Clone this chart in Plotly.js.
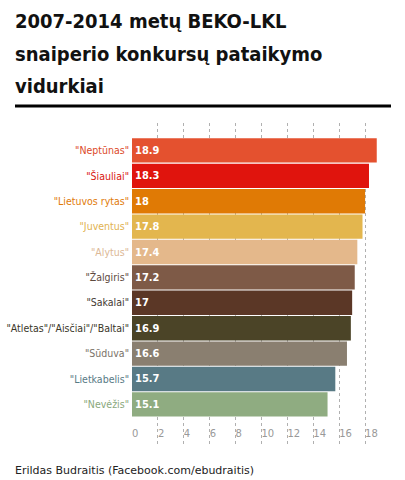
<!DOCTYPE html>
<html>
<head>
<meta charset="utf-8">
<script src="https://cdn.plot.ly/plotly-3.0.1.min.js"></script>
<style>html,body{margin:0;padding:0;background:#fff;}#chart{width:405px;height:480px;}</style>
</head>
<body>
<div id="chart"></div>
<script>
const teams = ['"Neptūnas"', '"Šiauliai"', '"Lietuvos rytas"', '"Juventus"', '"Alytus"', '"Žalgiris"', '"Sakalai"', '"Atletas"/"Aisčiai"/"Baltai"', '"Sūduva"', '"Lietkabelis"', '"Nevėžis"'];
const averages = [18.9, 18.3, 18, 17.8, 17.4, 17.2, 17, 16.9, 16.6, 15.7, 15.1];
const barColors = ['#e4512f', '#e0140d', '#e07a05', '#e3b64e', '#e4b88b', '#7e5a47', '#5b3726', '#4b4427', '#8a7f70', '#587a85', '#8fac81'];
const labelColors = ['#dc4a2a', '#d9150e', '#df7b0a', '#dfb24f', '#dcb896', '#5e4a3e', '#453a33', '#3a3628', '#7a7268', '#587a85', '#8aa87c'];
const xTicks = [0, 2, 4, 6, 8, 10, 12, 14, 16, 18];
const titleLines = ['2007-2014 metų BEKO-LKL', 'snaiperio konkursų pataikymo', 'vidurkiai'];
const sourceText = 'Erildas Budraitis (Facebook.com/ebudraitis)';

const condensed = '"DejaVu Sans Condensed", "DejaVu Sans", sans-serif';

const ticktext = teams.map((t, i) => '<span style="color:' + labelColors[i] + '">' + t + '</span>');

const trace = {
  type: 'bar',
  orientation: 'h',
  x: averages,
  y: teams,
  marker: {color: barColors, line: {width: 0}},
  text: averages.map(v => String(v)),
  textposition: 'inside',
  insidetextanchor: 'start',
  constraintext: 'none',
  textfont: {family: condensed, size: 11, color: '#ffffff', weight: 'bold'},
  hoverinfo: 'none'
};

const L = 132, R = 14, T = 123, B = 35;
const plotW = 405 - L - R, plotH = 480 - T - B;
const px = x => (x - L) / plotW;
const py = y => (480 - B - y) / plotH;

const titleCenters = [21, 54, 86];
const annotations = titleLines.map((t, i) => ({
  text: t, showarrow: false,
  xref: 'paper', yref: 'paper', x: px(13), y: py(titleCenters[i]),
  xanchor: 'left', yanchor: 'middle',
  font: {family: condensed, size: 20, color: '#111111', weight: 'bold'}
}));
annotations.push({
  text: sourceText, showarrow: false,
  xref: 'paper', yref: 'paper', x: px(13), y: py(470),
  xanchor: 'left', yanchor: 'middle',
  font: {family: '"DejaVu Sans", Verdana, sans-serif', size: 11, color: '#222222'}
});

const layout = {
  width: 405, height: 480,
  margin: {l: L, r: R, t: T, b: B, pad: 0},
  paper_bgcolor: '#ffffff', plot_bgcolor: '#ffffff',
  showlegend: false,
  bargap: 0.04,
  xaxis: {
    range: [0, 20],
    tickmode: 'array', tickvals: xTicks, ticktext: xTicks.map(String),
    showgrid: true, gridcolor: '#b0b0b0', griddash: 'dot', gridwidth: 1,
    zeroline: false, showline: false, ticks: '',
    ticklabelposition: 'inside right',
    tickfont: {family: '"DejaVu Sans", Verdana, sans-serif', size: 10, color: '#999999'},
    fixedrange: true
  },
  yaxis: {
    type: 'category',
    categoryorder: 'array', categoryarray: teams,
    range: [11.6, -1.08],
    tickmode: 'array', tickvals: teams, ticktext: ticktext,
    showgrid: false, zeroline: false, showline: false, ticks: '',
    ticklabelstandoff: 2,
    tickfont: {family: condensed, size: 10.5, color: '#444444'},
    fixedrange: true
  },
  shapes: [{
    type: 'line', xref: 'paper', yref: 'paper',
    x0: px(15), x1: px(391), y0: py(106), y1: py(106),
    line: {color: '#000000', width: 3}
  }],
  annotations: annotations
};

Plotly.newPlot('chart', [trace], layout, {displayModeBar: false, staticPlot: true});
</script>
</body>
</html>
